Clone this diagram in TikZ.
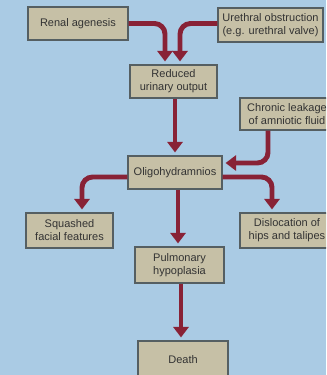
\documentclass[tikz,border=0pt]{standalone}
\usepackage{fontspec}
\setmainfont{Liberation Sans}
\usetikzlibrary{positioning,arrows.meta,calc}
\definecolor{SkyBack}{RGB}{170,203,228}
\definecolor{BoxTan}{RGB}{198,192,166}
\definecolor{BoxEdge}{RGB}{85,95,98}
\definecolor{FlowRed}{RGB}{136,34,54}
\tikzset{
    box/.style={draw=BoxEdge,fill=BoxTan,line width=1pt,align=center,inner sep=1pt,
        font=\fontsize{9.4}{11}\selectfont,text=black!80},
    flow/.style={draw=FlowRed,line width=4.2pt,rounded corners=9pt,
        -{Triangle[length=9pt,width=13pt]}}
}

\begin{document}
\begin{tikzpicture}[x=0.03cm,y=-0.03cm]
    \useasboundingbox (0,0) rectangle (326,375);
    \fill[SkyBack] (0,0) rectangle (326,375);
    \clip (0,0) rectangle (326,375);
    % boxes
    \node[box,minimum width=100*0.03cm,minimum height=33*0.03cm] (ren) at (78,23.5) {Renal agenesis};
    \node[box,minimum width=105*0.03cm,minimum height=34*0.03cm] (ure) at (270.5,25) {Urethral obstruction\\(e.g. urethral valve)};
    \node[box,minimum width=87*0.03cm,minimum height=33*0.03cm] (red) at (173.5,81.5) {Reduced\\urinary output};
    \node[box,minimum width=94*0.03cm,minimum height=32*0.03cm] (leak) at (287,114) {Chronic leakage\\of amniotic fluid};
    \node[box,minimum width=94*0.03cm,minimum height=33*0.03cm] (oli) at (175,172.5) {Oligohydramnios};
    \node[box,minimum width=87*0.03cm,minimum height=35*0.03cm] (squ) at (69.5,230.5) {Squashed\\facial features};
    \node[box,minimum width=94*0.03cm,minimum height=35*0.03cm] (dis) at (287,230.5) {Dislocation of\\hips and talipes};
    \node[box,minimum width=89*0.03cm,minimum height=36*0.03cm] (pul) at (179.5,265) {Pulmonary\\hypoplasia};
    \node[box,minimum width=90*0.03cm,minimum height=38*0.03cm] (dea) at (183,360) {Death};
    % connectors
    \draw[flow] (ren.east) -| ($(red.north)+(-8.5,-3)$);
    \draw[flow] ($(ure.west)+(0,-1.5)$) -| ($(red.north)+(6.5,-3)$);
    \draw[flow] ($(red.south)+(1.5,0)$) -- ($(oli.north)+(0,-3)$);
    \draw[flow] ($(leak.south)+(-19,0)$) |- ($(oli.east)+(3,-9.5)$);
    \draw[flow] ($(oli.west)+(0,4.5)$) -| ($(squ.north)+(12.5,-3)$);
    \draw[flow] ($(oli.east)+(0,4.5)$) -| ($(dis.north)+(-15,-3)$);
    \draw[flow] ($(oli.south)+(3,0)$) -- ($(pul.north)+(-1.5,-3)$);
    \draw[flow] ($(pul.south)+(1.5,0)$) -- ($(dea.north)+(-2,-3)$);
\end{tikzpicture}
\end{document}
